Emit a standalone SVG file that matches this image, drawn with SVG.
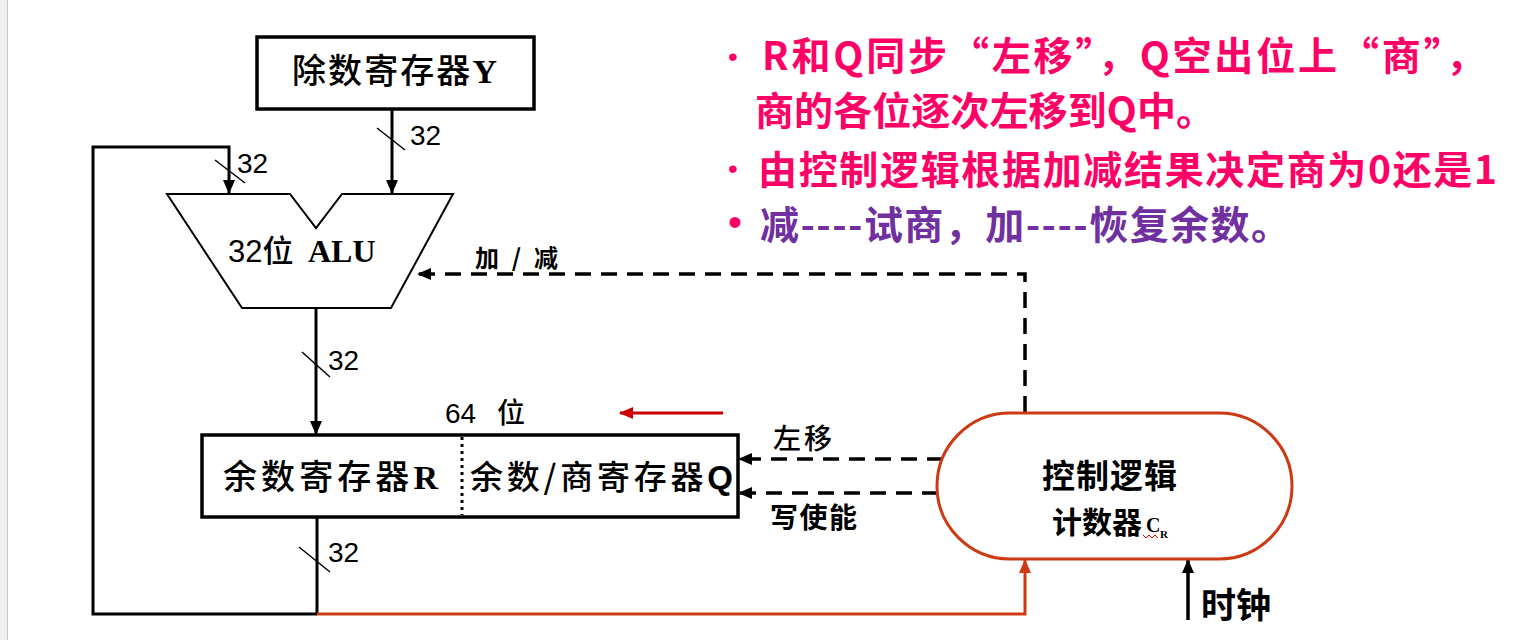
<svg xmlns="http://www.w3.org/2000/svg" width="1524" height="640" viewBox="0 0 1524 640">
<style>
.cjk{font-family:"Noto Sans CJK SC","Liberation Sans",sans-serif;fill:#000}
.num{font-family:"Liberation Sans","Noto Sans CJK SC",sans-serif;fill:#000}
.ser{font-family:"Liberation Serif","Noto Sans CJK SC",serif;font-weight:bold}
.box{fill:#fff;stroke:#000;stroke-width:3.5}
.wire{fill:none;stroke:#000;stroke-width:3}
.dash{fill:none;stroke:#000;stroke-width:3.5;stroke-dasharray:16 10}
.tick{stroke:#000;stroke-width:1.5}
.red{fill:none;stroke:#cc3a14;stroke-width:3}
.note{font-family:"Noto Sans CJK SC","Liberation Sans",sans-serif;font-weight:bold;font-size:39px}
</style>
<defs>
<marker id="ab" markerUnits="userSpaceOnUse" markerWidth="14" markerHeight="12" refX="13" refY="6" orient="auto"><path d="M0,0 L14,6 L0,12 z" fill="#000"/></marker>
<marker id="ar" markerUnits="userSpaceOnUse" markerWidth="14" markerHeight="12" refX="13" refY="6" orient="auto"><path d="M0,0 L14,6 L0,12 z" fill="#cc3a14"/></marker>
<marker id="ar2" markerUnits="userSpaceOnUse" markerWidth="14" markerHeight="12" refX="13" refY="6" orient="auto"><path d="M0,0 L14,6 L0,12 z" fill="#cc0000"/></marker>
</defs>
<rect x="0" y="0" width="1524" height="640" fill="#fff"/>
<rect x="0" y="0" width="7" height="640" fill="#f0f0f0"/>
<line x1="7.5" y1="0" x2="7.5" y2="640" stroke="#c8c8c8" stroke-width="1"/>

<g id="connectors">
  <line class="wire" x1="392" y1="109" x2="392" y2="193" marker-end="url(#ab)"/>
  <line class="tick" x1="377" y1="128" x2="405" y2="150"/>
  <text class="num" x="410" y="145" font-size="28">32</text>
  <polyline class="wire" points="317,614 93,614 93,147 229,147 229,193" marker-end="url(#ab)"/>
  <line class="tick" x1="215" y1="160" x2="245" y2="183"/>
  <text class="num" x="237" y="173" font-size="28">32</text>
  <line class="wire" x1="316" y1="308" x2="316" y2="434" marker-end="url(#ab)"/>
  <line class="tick" x1="302" y1="352" x2="330" y2="377"/>
  <text class="num" x="328" y="370" font-size="28">32</text>
  <line class="wire" x1="317" y1="517" x2="317" y2="614"/>
  <line class="tick" x1="299" y1="547" x2="330" y2="572"/>
  <text class="num" x="328" y="562" font-size="28">32</text>
  <polyline class="red" points="317,614 1025,614 1025,560" marker-end="url(#ar)"/>
  <polyline class="dash" points="1025,412 1025,274 418,274" marker-end="url(#ab)"/>
  <text class="cjk" x="475" y="267" font-size="24" font-weight="bold" textLength="83">加 / 减</text>
  <line class="dash" x1="943" y1="459" x2="739" y2="459" marker-end="url(#ab)"/>
  <line class="dash" x1="938" y1="493" x2="739" y2="493" marker-end="url(#ab)"/>
  <text class="cjk" x="773" y="449" font-size="28" font-weight="500" textLength="59">左移</text>
  <text class="cjk" x="770" y="528" font-size="28" font-weight="bold" textLength="87">写使能</text>
  <line x1="1188" y1="620" x2="1188" y2="560" stroke="#000" stroke-width="3.5" marker-end="url(#ab)"/>
  <text class="cjk" x="1201" y="618" font-size="35" font-weight="bold">时钟</text>
  <line x1="723" y1="413" x2="620" y2="413" stroke="#cc0000" stroke-width="3" marker-end="url(#ar2)"/>
</g>

<g id="divisor">
  <rect class="box" x="257" y="37" width="277" height="72"/>
  <text class="cjk" x="292" y="83" font-size="34" font-weight="500" textLength="205">除数寄存器<tspan class="ser">Y</tspan></text>
</g>

<g id="alu">
  <polygon points="167,194 290,194 316,228 342,194 453,194 391,308 242,308" fill="#fff" stroke="#000" stroke-width="2"/>
  <text class="num" x="228" y="262" font-size="31">32<tspan class="cjk" font-weight="500">位</tspan><tspan class="ser" x="308" font-size="32">ALU</tspan></text>
</g>

<g id="register">
  <rect class="box" x="202" y="435" width="536" height="82"/>
  <line x1="462" y1="437" x2="462" y2="515" stroke="#000" stroke-width="3" stroke-dasharray="3 4"/>
  <text class="cjk" x="223" y="489" font-size="34" font-weight="500" textLength="215">余数寄存器<tspan class="ser">R</tspan></text>
  <text class="cjk" x="470" y="489" font-size="33" font-weight="500" textLength="263">余数/商寄存器<tspan class="num" font-weight="bold">Q</tspan></text>
  <text class="num" x="445" y="423" font-size="28">64<tspan class="cjk" x="497" font-weight="500">位</tspan></text>
</g>

<g id="control">
  <rect x="937" y="413" width="355" height="146" rx="73" ry="73" fill="#fff" stroke="#cc3a14" stroke-width="3"/>
  <text class="cjk" x="1042" y="488" font-size="33" font-weight="bold" textLength="135">控制逻辑</text>
  <text class="cjk" x="1052" y="533" font-size="30" font-weight="bold">计数器</text>
  <text class="ser" x="1146" y="532" font-size="20">C</text>
  <text class="ser" x="1160" y="538" font-size="11">R</text>
  <polyline points="1143,535 1146,538 1149,535 1152,538 1155,535 1158,538" fill="none" stroke="#e00000" stroke-width="1"/>
</g>

<g id="notes">
  <text x="728" y="66" font-family="Liberation Sans,sans-serif" font-size="28" fill="#ff0066">•</text>
  <text class="note" x="762" y="70" fill="#ff0066" textLength="723">R和Q同步“左移”，Q空出位上“商”，</text>
  <text class="note" x="755" y="125" fill="#ff0066" textLength="460">商的各位逐次左移到Q中。</text>
  <text x="728" y="178" font-family="Liberation Sans,sans-serif" font-size="28" fill="#ff0066">•</text>
  <text class="note" x="758" y="184" fill="#ff0066" textLength="739">由控制逻辑根据加减结果决定商为0还是1</text>
  <text x="728" y="236" font-family="Liberation Sans,sans-serif" font-size="40" fill="#ff0066">•</text>
  <text class="note" x="760" y="239" fill="#7030a0" textLength="530">减----试商，加----恢复余数。</text>
</g>
</svg>
